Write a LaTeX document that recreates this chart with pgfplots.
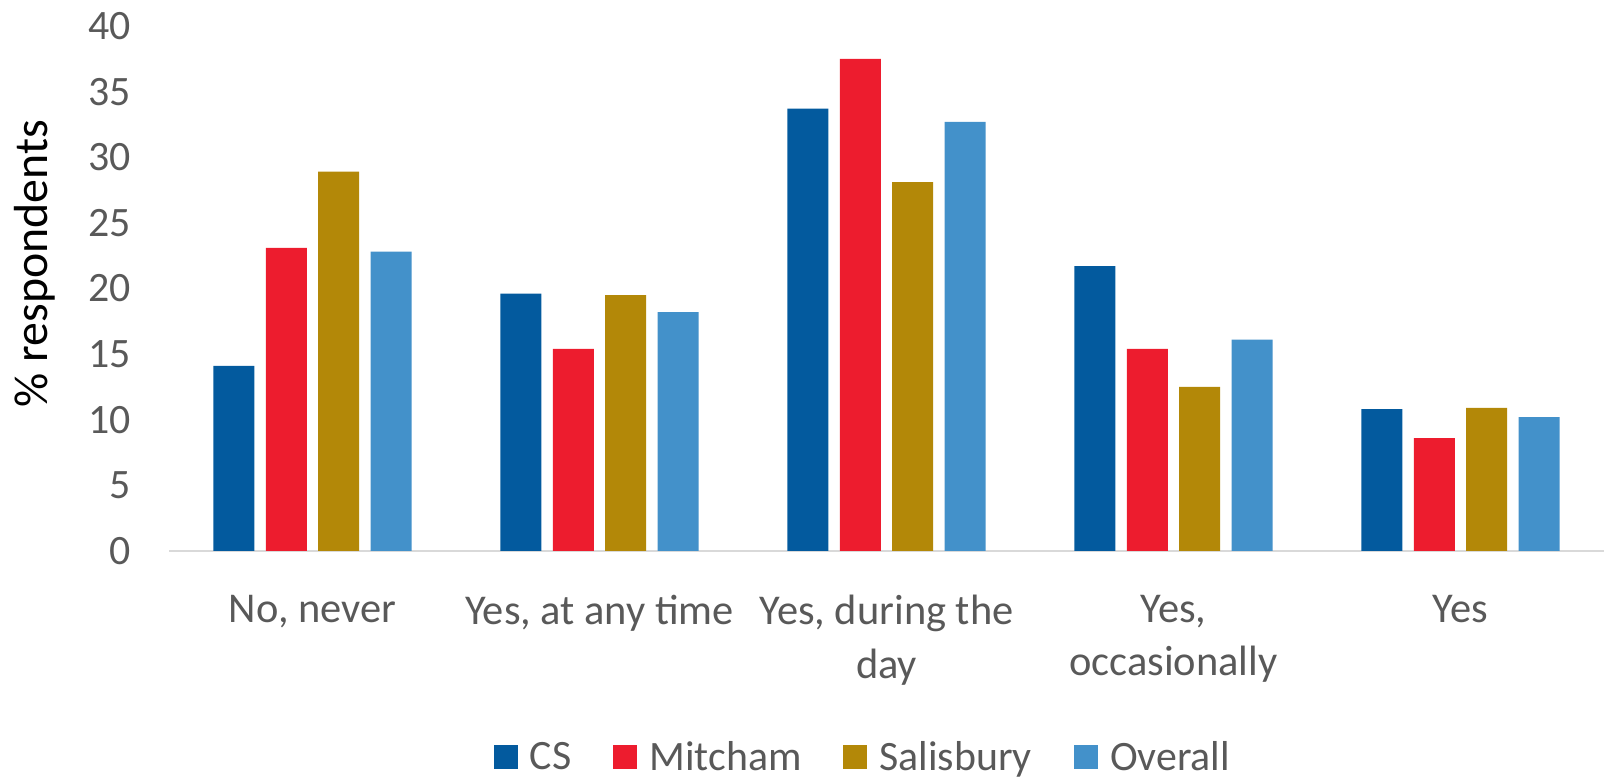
\documentclass[border=0pt]{standalone}
\usepackage{pgfplots}
\pgfplotsset{compat=1.18}
\usepackage{fontspec}
\setmainfont{Carlito}
\definecolor{cs}{RGB}{3,90,158}
\definecolor{mit}{RGB}{237,28,46}
\definecolor{sal}{RGB}{179,136,8}
\definecolor{ovr}{RGB}{67,145,202}
\definecolor{txt}{RGB}{89,89,89}
\definecolor{axl}{RGB}{217,217,217}
\begin{document}
\begin{tikzpicture}
\begin{axis}[
  scale only axis,
  width=717.5bp, height=262.5bp,
  xmin=-0.5, xmax=4.5, ymin=0, ymax=40,
  ybar=5.7bp, bar width=20.5bp,
  legend image code/.code={\fill[#1] (0bp,-6bp) rectangle (12bp,6bp);},
  axis x line*=bottom, axis y line*=left,
  x axis line style={axl, line width=1bp},
  y axis line style={draw=none},
  xtick style={draw=none}, ytick style={draw=none},
  xtick={0,1,2,3,4},
  xticklabels={{No, never},{Yes, at any time},{Yes, during the\\day},{Yes,\\occasionally},{Yes}},
  ytick={0,5,...,40},
  /pgf/number format/assume math mode=true,
  tick label style={font=\fontsize{21}{27}\selectfont, text=txt},
  xticklabel style={align=center, inner sep=0pt, anchor=north, yshift=-17.5bp, font=\fontsize{21.3}{27}\selectfont},
  yticklabel style={inner sep=0pt, anchor=east, xshift=-19bp},
  ylabel={\% respondents},
  ylabel style={at={(rel axis cs:-0.0934,0.547)}, anchor=center, font=\fontsize{24}{28}\selectfont, text=black},
  legend columns=-1,
  legend style={at={(rel axis cs:0.4829,-0.3924)}, anchor=center, draw=none, fill=none,
    font=\fontsize{21}{25}\selectfont, text=txt,
    nodes={inner sep=0pt},
    /tikz/every odd column/.append style={column sep=6bp},
    /tikz/every even column/.append style={column sep=21bp}},
  clip=false,
]
\addplot[fill=cs, draw=none] coordinates {(0,14.1) (1,19.6) (2,33.7) (3,21.7) (4,10.8)};
\addplot[fill=mit, draw=none] coordinates {(0,23.1) (1,15.4) (2,37.5) (3,15.4) (4,8.6)};
\addplot[fill=sal, draw=none] coordinates {(0,28.9) (1,19.5) (2,28.1) (3,12.5) (4,10.9)};
\addplot[fill=ovr, draw=none] coordinates {(0,22.8) (1,18.2) (2,32.7) (3,16.1) (4,10.2)};
\legend{CS, Mitcham, Salisbury, Overall}
\coordinate (bbll) at (rel axis cs:-0.1178,-0.4324);
\coordinate (bbur) at (rel axis cs:1.00557,1.0495);
\end{axis}
\pgfresetboundingbox
\path[use as bounding box] (bbll) rectangle (bbur);
\end{tikzpicture}
\end{document}
